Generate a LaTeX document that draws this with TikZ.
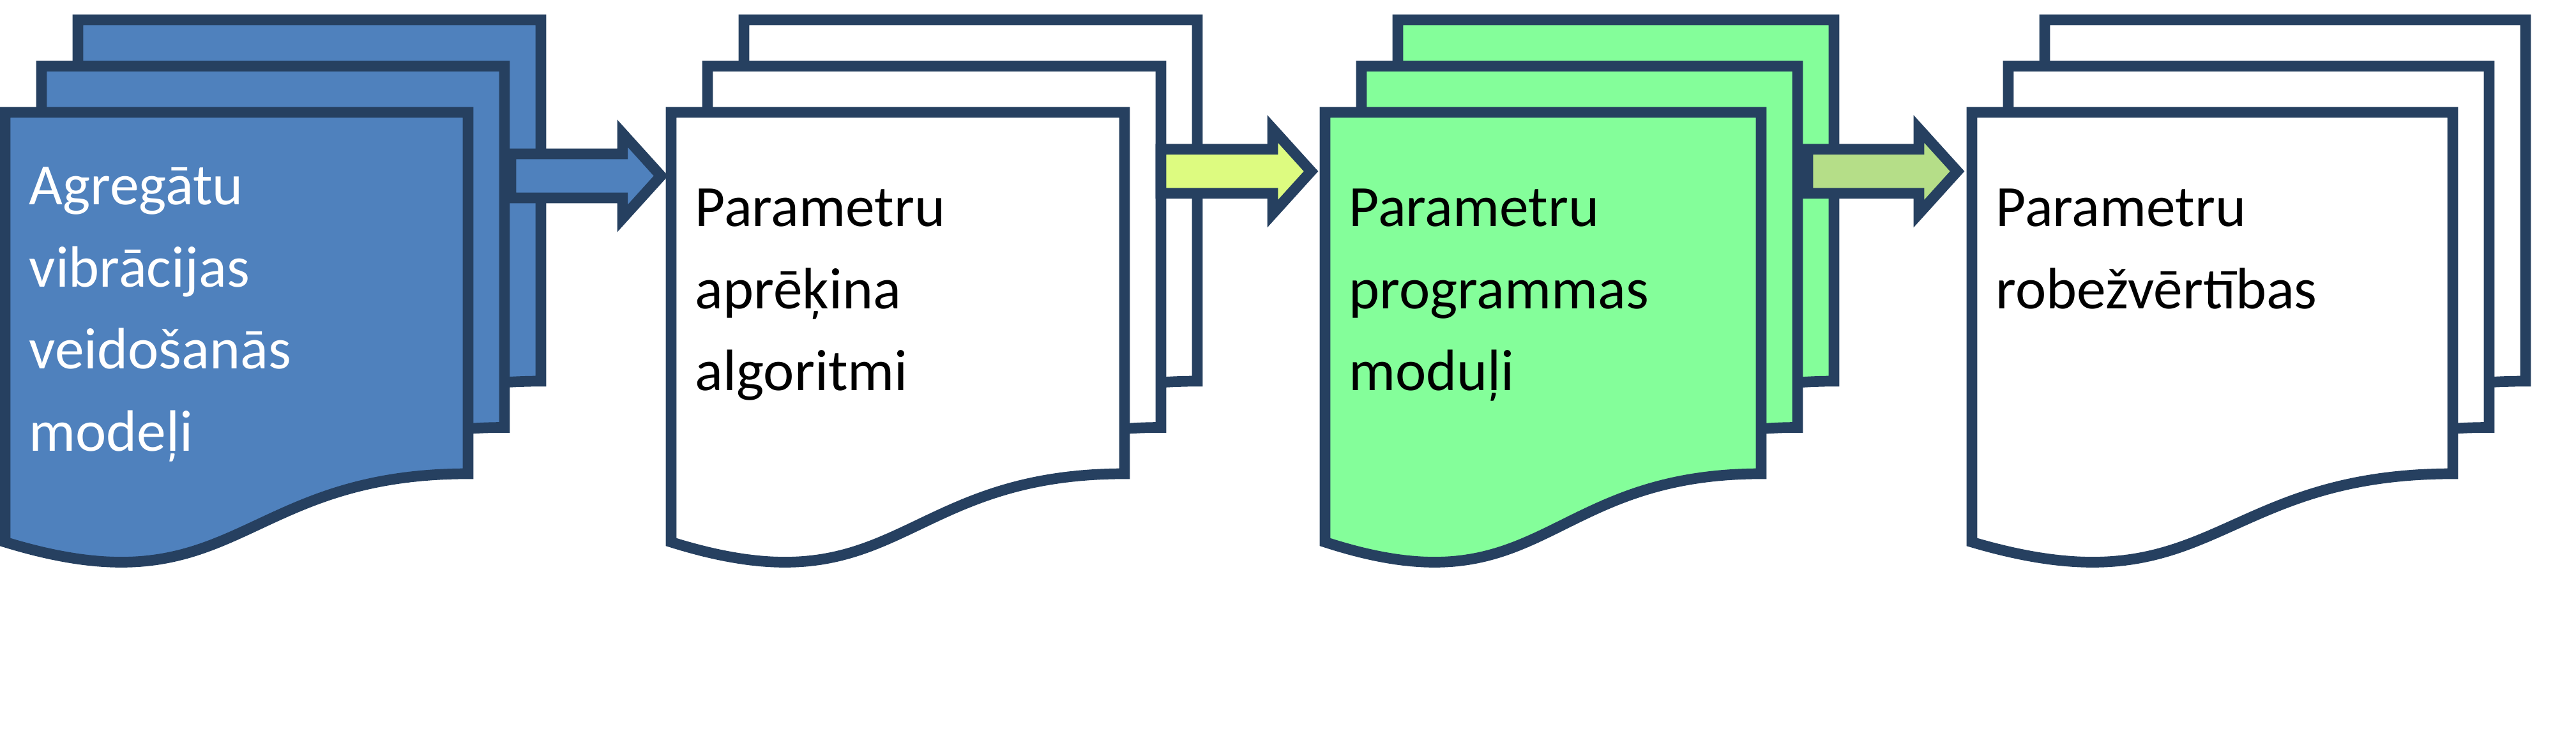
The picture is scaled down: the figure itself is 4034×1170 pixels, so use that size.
\documentclass[tikz,border=0pt]{standalone}
\usepackage{fontspec}
\setmainfont{Carlito}
\usetikzlibrary{calc}
\definecolor{modelDark}{RGB}{38, 64, 96}
\definecolor{modelBlue}{RGB}{79, 129, 189}
\definecolor{moduleGreen}{RGB}{132, 254, 154}
\definecolor{arrowLime}{RGB}{221, 251, 128}
\definecolor{arrowGreen}{RGB}{181, 222, 136}

% one sheet of a stack: left, right, top, fill
\newcommand{\sheet}[4]{%
  \draw[sheet line,fill=#4] (#1,#3) -- (#2,#3) -- (#2,#3+566)
    .. controls ({(#1+#2)/2},#3+566) and ({(#1+#2)/2},#3+784) .. (#1,#3+673)
    -- cycle;}

% block arrow from tail to tip
\newcommand{\blockarrow}[3]{%
  \draw[sheet line,fill=#3] let \p1=(#1), \p2=(#2) in
    (\x1,\y1+9.8pt) -- (\x2-17.1pt,\y1+9.8pt) -- (\x2-17.1pt,\y1+18.9pt)
    -- (\x2,\y1) -- (\x2-17.1pt,\y1-18.9pt) -- (\x2-17.1pt,\y1-9.8pt)
    -- (\x1,\y1-9.8pt) -- cycle;}

\begin{document}
\begin{tikzpicture}[
  x=0.01cm,y=-0.01cm,
  sheet line/.style={draw=modelDark,line width=4.75pt,line join=miter},
  sheet text/.style={
    anchor=base west,
    inner sep=0pt,
    align=left,
    font=\fontsize{26pt}{36.5pt}\selectfont
  }
]
  \useasboundingbox (0,0) rectangle (4034,1170);

  % stacks of sheets, back to front
  \foreach \l/\r/\c in {8/733/modelBlue,1051/1761/white,2075/2758/moduleGreen,3088/3841/white}
    \foreach \k in {2,1,0}
      \sheet{\l+57*\k}{\r+57*\k}{176-72.5*\k}{\c};

  \coordinate (tail1) at (800,275.5);
  \coordinate (tip1) at (1035,275.5);
  \coordinate (tail2) at (1818,268.3);
  \coordinate (tip2) at (2053,268.3);
  \coordinate (tail3) at (2831,268.3);
  \coordinate (tip3) at (3065,268.3);
  \blockarrow{tail1}{tip1}{modelBlue}
  \blockarrow{tail2}{tip2}{arrowLime}
  \blockarrow{tail3}{tip3}{arrowGreen}

  % base anchor sits on the last line
  \node[sheet text,text=white] (models) at (45,706)
    {Agregātu\\vibrācijas\\veidošanās\\modeļi};
  \node[sheet text] (algorithms) at (1088,611.6)
    {Parametru\\aprēķina\\algoritmi};
  \node[sheet text] (modules) at (2112,611.6)
    {Parametru\\programmas\\moduļi};
  \node[sheet text] (limits) at (3125,483.3)
    {Parametru\\robežvērtības};
\end{tikzpicture}
\end{document}
